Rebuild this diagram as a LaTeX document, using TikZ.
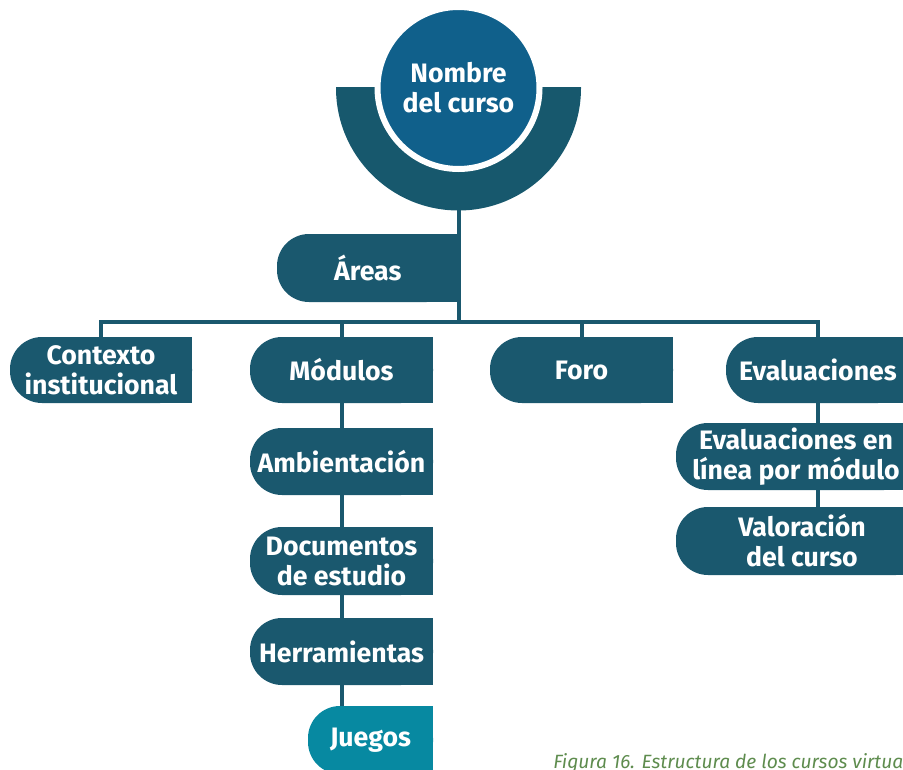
\documentclass[tikz,border=0pt]{standalone}
\usepackage{fontspec}
\setmainfont{Fira Sans}
\definecolor{azulcaja}{HTML}{1A586E}
\definecolor{azulbanda}{HTML}{17586D}
\definecolor{azulcirculo}{HTML}{10608B}
\definecolor{turquesa}{HTML}{0789A1}
\definecolor{verdepie}{HTML}{5E8C4E}
\tikzset{
  etiqueta/.style={text=white, font=\fontsize{20}{22.5}\selectfont\bfseries, align=center, inner sep=0pt, outer sep=0pt},
  linea/.style={draw=azulcaja, line width=3pt}
}
\newcommand{\caja}[7][azulcaja]{%
  \fill[#1, rounded corners=24pt] (#3,#4) rectangle (#5,#6);
  \fill[#1] ({(#3+#5)/2},#4) rectangle (#5,#6);
  \node[etiqueta, minimum width={(#5-#3)*0.75pt}, minimum height={(#6-#4)*0.75pt}] (#2) at ({(#3+#5)/2},{(#4+#6)/2}) {#7};
}
\begin{document}
\begin{tikzpicture}[x=0.75pt, y=-0.75pt]
  \useasboundingbox (0,0) rectangle (903,770);
  \clip (0,0) rectangle (903,770);
  \begin{scope}
    \clip (330,88) rectangle (590,220);
    \fill[azulbanda] (458.5,88) circle (122.5);
  \end{scope}
  \coordinate (base) at (458.5,210);
  \coordinate (bus) at (458.5,322);
  \draw[linea] (base) -- (bus);
  \caja{areas}{277}{234}{458.5}{302}{Áreas}
  \node[etiqueta, circle, fill=azulcirculo, draw=white, line width=4.5pt, minimum size=121.5pt] (nombre) at (458.5,88) {Nombre\\del curso};
  \caja{contexto}{10}{337}{192}{403}{Contexto\\institucional}
  \caja{modulos}{250}{337}{433}{403}{Módulos}
  \caja{foro}{490}{337}{673}{403}{Foro}
  \caja{evaluaciones}{726}{337}{910}{403}{Evaluaciones}
  \caja{ambientacion}{250}{428}{433}{495}{Ambientación}
  \caja{documentos}{250}{527}{433}{595}{Documentos\\de estudio}
  \caja{herramientas}{250}{618}{433}{685}{Herramientas}
  \caja[turquesa]{juegos}{308}{706}{433}{774}{Juegos}
  \caja{enlinea}{676}{423}{916}{490}{Evaluaciones en\\línea por módulo}
  \caja{valoracion}{676}{507}{928}{575}{Valoración\\del curso}
  \draw[linea] (contexto.north) |- (bus) -| (evaluaciones.north);
  \draw[linea] (modulos.north) -- (modulos.north |- bus);
  \draw[linea] (foro.north) -- (foro.north |- bus);
  \draw[linea] (modulos.south) -- (ambientacion.north);
  \draw[linea] (ambientacion.south) -- (documentos.north);
  \draw[linea] (documentos.south) -- (herramientas.north);
  \draw[linea] (herramientas.south) -- (herramientas.south |- juegos.north);
  \draw[linea] (evaluaciones.south) -- (evaluaciones.south |- enlinea.north);
  \draw[linea] (evaluaciones.south |- enlinea.south) -- (evaluaciones.south |- valoracion.north);
  \node[anchor=base west, text=verdepie, font=\fontsize{14.4}{17}\selectfont\itshape, inner sep=0pt] (pie) at (553,768) {Figura 16. Estructura de los cursos virtuales};
\end{tikzpicture}
\end{document}
